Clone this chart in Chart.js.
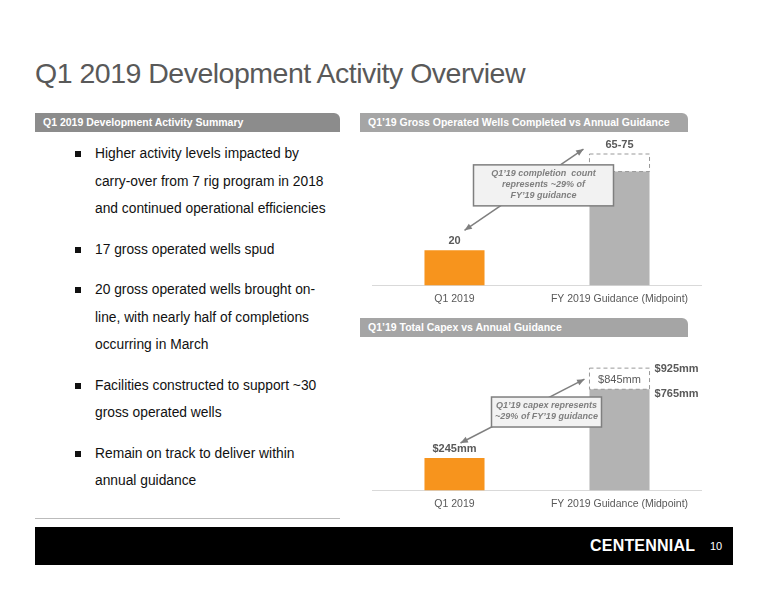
<!DOCTYPE html>
<html><head><meta charset="utf-8">
<script src="https://cdn.jsdelivr.net/npm/chart.js@4/dist/chart.umd.min.js"></script>
<style>
body{margin:0;width:776px;height:600px;background:#fff;font-family:"Liberation Sans",Arial,sans-serif;position:relative;overflow:hidden}
.abs{position:absolute}
h1{position:absolute;left:35px;top:57px;margin:0;font-weight:normal;font-size:28.5px;color:#595959;letter-spacing:-0.5px}
.hdr{position:absolute;height:19px;border-radius:0 6px 0 0;color:#fff;font-weight:bold;font-size:10.5px;line-height:19px;padding-left:8px;box-sizing:border-box}
ul{position:absolute;left:77px;top:140px;width:240px;margin:0;padding:0 0 0 18px;list-style:none;font-size:13.8px;color:#111;line-height:27.5px}
li{position:relative;margin-bottom:13px}
li:before{content:"";position:absolute;left:-20px;top:11px;width:6px;height:6px;background:#111}
</style></head><body>
<h1>Q1 2019 Development Activity Overview</h1>
<div class="hdr" style="left:35px;top:113px;width:305px;background:#8c8c8c">Q1 2019 Development Activity Summary</div>
<div class="hdr" style="left:360px;top:113px;width:328px;background:#a5a5a5">Q1’19 Gross Operated Wells Completed vs Annual Guidance</div>
<div class="hdr" style="left:360px;top:318px;width:328px;background:#a5a5a5">Q1’19 Total Capex vs Annual Guidance</div>
<ul>
<li>Higher activity levels impacted by carry-over from 7 rig program in 2018 and continued operational efficiencies</li>
<li>17 gross operated wells spud</li>
<li>20 gross operated wells brought on-line, with nearly half of completions occurring in March</li>
<li>Facilities constructed to support ~30 gross operated wells</li>
<li>Remain on track to deliver within annual guidance</li>
</ul>
<div class="abs" style="left:35px;top:518px;width:305px;border-top:1px solid #bbb"></div>
<div class="abs" style="left:35px;top:527px;width:698px;height:38px;background:#000"></div>
<div class="abs" style="left:590px;top:537px;color:#fff;font-weight:bold;font-size:16px;letter-spacing:0.2px">CENTENNIAL</div>
<div class="abs" style="left:710px;top:540px;color:#fff;font-size:11px">10</div>
<div class="abs" style="left:372px;top:140px;width:330px;height:172px"><canvas id="c1"></canvas></div>
<div class="abs" style="left:372px;top:345px;width:330px;height:172px"><canvas id="c2"></canvas></div>
<script>
const categories = ["Q1 2019", "FY 2019 Guidance (Midpoint)"];
const wellsBase = [20, 65];
const wellsRange = [null, 10];
const wellsLabels = ["20", "65-75"];
const capexBase = [245, 765];
const capexRange = [null, 160];
const capexLabels = ["$245mm", "$925mm", "$765mm", "$845mm"];

function arrow(ctx, x1, y1, x2, y2) {
  ctx.save(); ctx.strokeStyle = "#7f7f7f"; ctx.fillStyle = "#7f7f7f"; ctx.lineWidth = 1.5;
  ctx.beginPath(); ctx.moveTo(x1, y1); ctx.lineTo(x2, y2); ctx.stroke();
  [[x1, y1, x2, y2], [x2, y2, x1, y1]].forEach(([ax, ay, bx, by]) => {
    const a = Math.atan2(ay - by, ax - bx);
    ctx.beginPath(); ctx.moveTo(ax, ay);
    ctx.lineTo(ax - 8 * Math.cos(a - 0.4), ay - 8 * Math.sin(a - 0.4));
    ctx.lineTo(ax - 8 * Math.cos(a + 0.4), ay - 8 * Math.sin(a + 0.4));
    ctx.fill();
  });
  ctx.restore();
}
function box(ctx, cx, cy, w, lines) {
  const h = lines.length * 11 + 8;
  ctx.save(); ctx.fillStyle = "#f2f2f2"; ctx.strokeStyle = "#7f7f7f"; ctx.lineWidth = 1.5;
  ctx.fillRect(cx - w / 2, cy - h / 2, w, h); ctx.strokeRect(cx - w / 2, cy - h / 2, w, h);
  ctx.fillStyle = "#7f7f7f"; ctx.font = "italic bold 9px 'Liberation Sans'"; ctx.textAlign = "center"; ctx.textBaseline = "middle";
  lines.forEach((l, i) => ctx.fillText(l, cx, cy - h / 2 + 9 + i * 11));
  ctx.restore();
}
function dashed(ctx, el) {
  ctx.save(); ctx.setLineDash([4, 3]); ctx.strokeStyle = "#999"; ctx.lineWidth = 1;
  ctx.strokeRect(el.x - el.width / 2, el.y, el.width, el.base - el.y); ctx.restore();
}
function build(id, base, range, max, drawExtra) {
  new Chart(document.getElementById(id), {
    type: "bar",
    data: { labels: categories, datasets: [
      { data: base, backgroundColor: ["#f7941d", "#b3b3b3"], stack: "s" },
      { data: range, backgroundColor: "rgba(255,255,255,0)", stack: "s" }
    ] },
    options: {
      responsive: true, maintainAspectRatio: false, animation: false,
      datasets: { bar: { barPercentage: 0.364, categoryPercentage: 1 } },
      plugins: { legend: { display: false }, tooltip: { enabled: false } },
      layout: { padding: 0 },
      scales: {
        x: { stacked: true, grid: { display: false, drawTicks: false }, border: { color: "#d9d9d9" },
             ticks: { color: "#595959", font: { size: 10.5, family: "Liberation Sans" }, padding: 7 } },
        y: { stacked: true, display: false, min: 0, max: max }
      }
    },
    plugins: [{ id: "extra", afterDatasetsDraw(chart) {
      const ctx = chart.ctx;
      const q = chart.getDatasetMeta(0).data[0], f = chart.getDatasetMeta(0).data[1], r = chart.getDatasetMeta(1).data[1];
      dashed(ctx, r);
      drawExtra(ctx, q, f, r);
    } }]
  });
}
function label(ctx, t, x, y, align, bold, color) {
  ctx.save(); ctx.fillStyle = color || "#595959"; ctx.font = (bold ? "bold " : "") + "11px 'Liberation Sans'";
  ctx.textAlign = align; ctx.textBaseline = "bottom"; ctx.fillText(t, x, y); ctx.restore();
}
build("c1", wellsBase, wellsRange, 83, (ctx, q, f, r) => {
  label(ctx, wellsLabels[0], q.x, q.y - 4, "center", true);
  label(ctx, wellsLabels[1], f.x, r.y - 4, "center", true);
  arrow(ctx, q.x + 10, q.y - 20, f.x - f.width / 2 - 6, r.y - 5);
  box(ctx, q.x + 89, q.y - 65, 140, ["Q1’19 completion  count", "represents ~29% of", "FY’19 guidance"]);
});
build("c2", capexBase, capexRange, 1100, (ctx, q, f, r) => {
  label(ctx, capexLabels[0], q.x, q.y - 4, "center", true);
  label(ctx, capexLabels[1], f.x + f.width / 2 + 5, r.y + 6, "left", true);
  label(ctx, capexLabels[2], f.x + f.width / 2 + 5, f.y + 10, "left", true);
  label(ctx, capexLabels[3], f.x, f.y - 4, "center", false);
  arrow(ctx, q.x + 6, q.y - 15, f.x - f.width / 2 - 5, r.y + 11);
  box(ctx, q.x + 92, q.y - 46, 110, ["Q1’19 capex represents", "~29% of FY’19 guidance"]);
});
</script>
</body></html>
